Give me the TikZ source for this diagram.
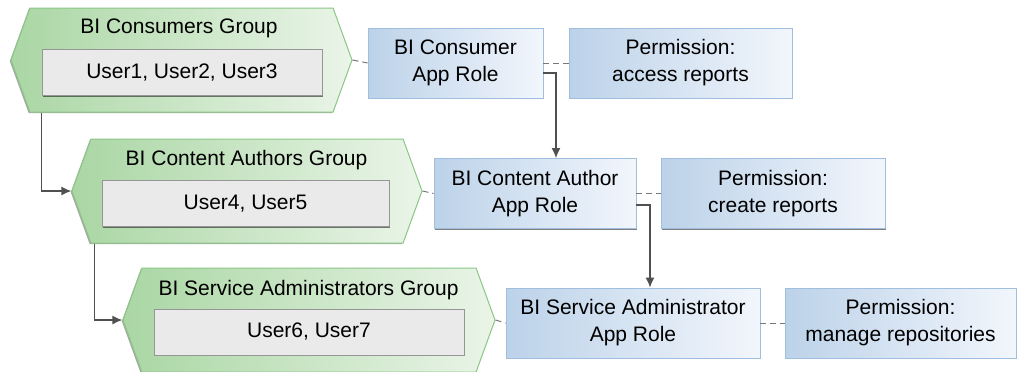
\documentclass[tikz,border=0pt]{standalone}
\usepackage{fontspec}
\setmainfont{Liberation Sans}
\usetikzlibrary{shapes.symbols,arrows.meta,shadows,calc}
\definecolor{grpL}{RGB}{170,214,164}
\definecolor{grpR}{RGB}{234,245,232}
\definecolor{grpB}{RGB}{140,198,134}
\definecolor{roleL}{RGB}{188,210,233}
\definecolor{roleR}{RGB}{242,246,252}
\definecolor{roleB}{RGB}{160,190,222}
\definecolor{userF}{RGB}{234,234,234}
\definecolor{userB}{RGB}{150,150,150}
\definecolor{lineC}{RGB}{80,80,80}
\definecolor{dashC}{RGB}{120,120,120}
\begin{document}
\begin{tikzpicture}[x=0.5pt,y=-0.5pt, font=\fontsize{10.5}{13.5}\selectfont,
  grp/.style={signal, signal to=west and east, signal pointer angle=140,
    draw=grpB, line width=0.5pt, left color=grpL, right color=grpR, inner sep=0pt,
    minimum height=52pt,
    drop shadow={shadow xshift=-0.6pt, shadow yshift=-0.6pt, fill=black, opacity=0.35}},
  users/.style={rectangle, draw=userB, line width=0.4pt, fill=userF, inner sep=0pt,
    minimum height=23pt,
    drop shadow={shadow xshift=0.5pt, shadow yshift=-0.7pt, fill=black, opacity=0.5}},
  role/.style={rectangle, draw=roleB, line width=0.4pt, left color=roleL, right color=roleR,
    inner sep=0pt, align=center, minimum height=35pt,
    drop shadow={shadow xshift=0.6pt, shadow yshift=-0.7pt, fill=black, opacity=0.5}},
  title/.style={anchor=base, inner sep=0pt},
  arr/.style={draw=lineC, line width=0.75pt, -{Latex[length=5pt,width=4.5pt]}},
  dsh/.style={draw=dashC, line width=0.5pt, dash pattern=on 3pt off 2pt}
]
\useasboundingbox (0,0) rectangle (1018,371);

% groups
\node[grp, minimum width=170.5pt] (g1) at (181.5,60) {};
\node[grp, minimum width=175pt] (g2) at (247,191) {};
\node[grp, minimum width=186pt] (g3) at (309,320) {};

\node[title] (t1) at (179,33) {BI Consumers Group};
\node[title] (t2) at (246.5,165) {BI Content Authors Group};
\node[title] (t3) at (308.5,295) {BI Service Administrators Group};

\node[users, minimum width=140pt] (u1) at (182,72.5) {User1, User2, User3};
\node[users, minimum width=143.5pt] (u2) at (245.5,203.5) {User4, User5};
\node[users, minimum width=155pt] (u3) at (309,332) {User6, User7};

% roles
\node[role, minimum width=87.5pt] (r1) at (455.5,63) {BI Consumer\\App Role};
\node[role, minimum width=111.5pt] (p1) at (680.5,63) {Permission:\\access reports};
\node[role, minimum width=101pt] (r2) at (535,193.5) {BI Content Author\\App Role};
\node[role, minimum width=112pt] (p2) at (773,193.5) {Permission:\\create reports};
\node[role, minimum width=127pt] (r3) at (633,323) {BI Service Administrator\\App Role};
\node[role, minimum width=115.5pt] (p3) at (900.5,323) {Permission:\\manage repositories};

% dashed links
\draw[dsh] (g1.east) -- (r1.west);
\draw[dsh] (r1.east) -- (p1.west);
\draw[dsh] (g2.east) -- (r2.west);
\draw[dsh] (r2.east) -- (p2.west);
\draw[dsh] (g3.east) -- (r3.west);
\draw[dsh] (r3.east) -- (p3.west);

% arrows
\draw[arr] (u1.west |- g1.south) |- (g2.west);
\draw[arr] ([xshift=-3.5pt]u2.west |- g2.south) |- (g3.west);
\draw[arr] ([yshift=-5pt]r1.east) -| ([xshift=10.5pt]r2.north);
\draw[arr] ([yshift=-5.75pt]r2.east) -| ([xshift=8.5pt]r3.north);
\end{tikzpicture}
\end{document}
